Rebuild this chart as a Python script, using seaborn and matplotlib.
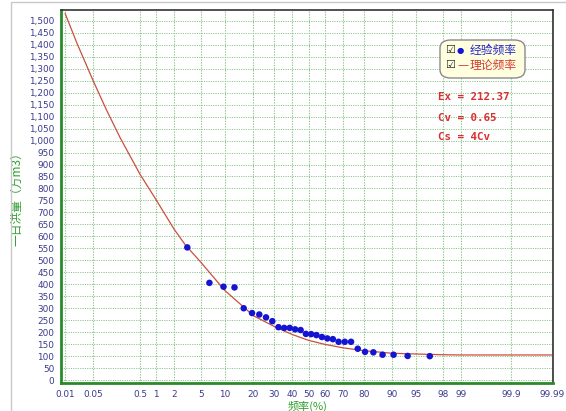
import numpy as np
import matplotlib
matplotlib.use("Agg")
import matplotlib.pyplot as plt
from matplotlib.patches import FancyBboxPatch, Rectangle
from statistics import NormalDist
import seaborn as sns

# empirical points (frequency %, flow)
emp_freq = [3.2, 6.5, 9.7, 12.9, 16.1, 19.4, 22.6, 25.8, 29.0, 32.3,
            35.5, 38.7, 41.9, 45.2, 48.4, 51.6, 54.8, 58.1, 61.3, 64.5,
            67.7, 71.0, 74.2, 77.4, 80.6, 83.9, 87.1, 90.3, 93.5, 96.8]
emp_flow = [554, 406, 390, 387, 300, 280, 274, 262, 246, 221,
            218, 218, 212, 209, 193, 192, 188, 180, 174, 171,
            160, 160, 160, 131, 118, 116, 106, 106, 101, 100]

# theoretical curve
theo_freq = [0.01, 0.02, 0.05, 0.1, 0.2, 0.5, 1, 2, 3, 5, 10, 20, 30,
             40, 50, 60, 70, 80, 90, 95, 98, 99, 99.9, 99.99]
theo_flow = [1531, 1408, 1250, 1130, 1012, 860, 752, 630, 564, 492, 375,
             269, 224, 191, 166, 149, 135, 123, 112, 109, 106, 105, 105, 105]

x_ticks = [0.01, 0.05, 0.5, 1, 2, 5, 10, 20, 30, 40, 50, 60, 70, 80,
           90, 95, 98, 99, 99.9, 99.99]
x_tick_labels = ["0.01", "0.05", "0.5", "1", "2", "5", "10", "20", "30", "40",
                 "50", "60", "70", "80", "90", "95", "98", "99", "99.9", "99.99"]
y_ticks = list(range(0, 1501, 50))

stats_lines = ["Ex = 212.37", "Cv = 0.65", "Cs = 4Cv"]

sns.set_style("white")
plt.rcParams['font.family'] = ['Noto Sans CJK SC', 'DejaVu Sans']

_nd = NormalDist()
_ppf = np.vectorize(_nd.inv_cdf, otypes=[float])
_cdf = np.vectorize(_nd.cdf, otypes=[float])


def prob_fwd(p):
    p = np.clip(np.asarray(p, dtype=float) / 100.0, 1e-9, 1 - 1e-9)
    return _ppf(p)


def prob_inv(z):
    return _cdf(np.asarray(z, dtype=float)) * 100.0


W, H = 566, 411
fig = plt.figure(figsize=(W / 100, H / 100), dpi=100)
L, R, T, B = 61, 553, 10, 383
ax = fig.add_axes([L / W, 1 - B / H, (R - L) / W, (B - T) / H])

ax.set_xscale('function', functions=(prob_fwd, prob_inv))

grid_c = "#8fc68f"
for yv in y_ticks:
    ax.axhline(yv, color=grid_c, lw=0.7, ls=(0, (1.2, 1.2)), zorder=0)
for xv in x_ticks:
    ax.axvline(xv, color=grid_c, lw=0.8, ls=(0, (1.2, 1.2)), zorder=0)

sns.lineplot(x=theo_freq, y=theo_flow, ax=ax, color="#c8503c", lw=0.9,
             sort=False, zorder=3)
sns.scatterplot(x=emp_freq, y=emp_flow, ax=ax, color="#1414d2", s=22,
                edgecolor="none", zorder=4)
ax.set_xlim(0.0078, 99.9906)
ax.set_ylim(-12, 1545)

ax.set_xticks(x_ticks)
ax.set_xticklabels(x_tick_labels)
ax.set_yticks(y_ticks)
ax.set_yticklabels([f"{v:,}" for v in y_ticks])
ax.minorticks_off()
tick_c = "#3a3a8c"
ax.tick_params(axis='both', labelsize=6.4, labelcolor=tick_c, length=3,
               width=0.8, color="#2a8a2a", direction='out', pad=2)
for lab in ax.get_xticklabels() + ax.get_yticklabels():
    lab.set_family('DejaVu Sans')

for side in ['left', 'bottom']:
    ax.spines[side].set_color("#2a8a2a")
    ax.spines[side].set_linewidth(2)
for side in ['top', 'right']:
    ax.spines[side].set_color("#333333")
    ax.spines[side].set_linewidth(1.2)

ax.set_xlabel("频率(%)", color="#2e9e2e", fontsize=8, labelpad=1)
ax.set_ylabel("一日洪量（万m3）", color="#2e9e2e", fontsize=8.5, labelpad=4)


def ax_pt(px, py):
    return (px - L) / (R - L), (B - py) / (B - T)


# legend box
x0, y0 = ax_pt(440, 78)
x1, y1 = ax_pt(525, 40)
box = FancyBboxPatch((x0, y0), x1 - x0, y1 - y0, transform=ax.transAxes,
                     boxstyle="round,pad=0,rounding_size=0.022",
                     facecolor="#ffffe0", edgecolor="#8a8a8a", lw=1.0,
                     zorder=5)
ax.add_patch(box)
for py, sym, sym_c, lab, lab_c in [(50, "●", "#1414d2", "经验频率", "#2828c8"),
                                   (65, "—", "#c83c30", "理论频率", "#d03a30")]:
    ax.text(*ax_pt(445, py), "☑", transform=ax.transAxes, fontsize=8,
            family='DejaVu Sans', va='center', ha='left', zorder=6)
    ax.text(*ax_pt(457, py), sym, transform=ax.transAxes, fontsize=6 if sym == "●" else 8,
            family='DejaVu Sans', color=sym_c, va='center', ha='left', zorder=6)
    ax.text(*ax_pt(470, py), lab, transform=ax.transAxes, fontsize=8.5,
            color=lab_c, va='center', ha='left', zorder=6)

for py, line in zip([97, 118, 137], stats_lines):
    ax.text(*ax_pt(438, py), line, transform=ax.transAxes, fontsize=7.8,
            family='DejaVu Sans Mono', weight='bold', color="#d83030",
            va='center', ha='left', zorder=6)

# outer light frame
fig.patches.append(Rectangle((11 / W, -0.01), 1.0, 1 - 2 / H + 0.01,
                             transform=fig.transFigure, fill=False,
                             edgecolor="#c8c8c8", lw=1.0))

fig.savefig("out.png", dpi=100)
